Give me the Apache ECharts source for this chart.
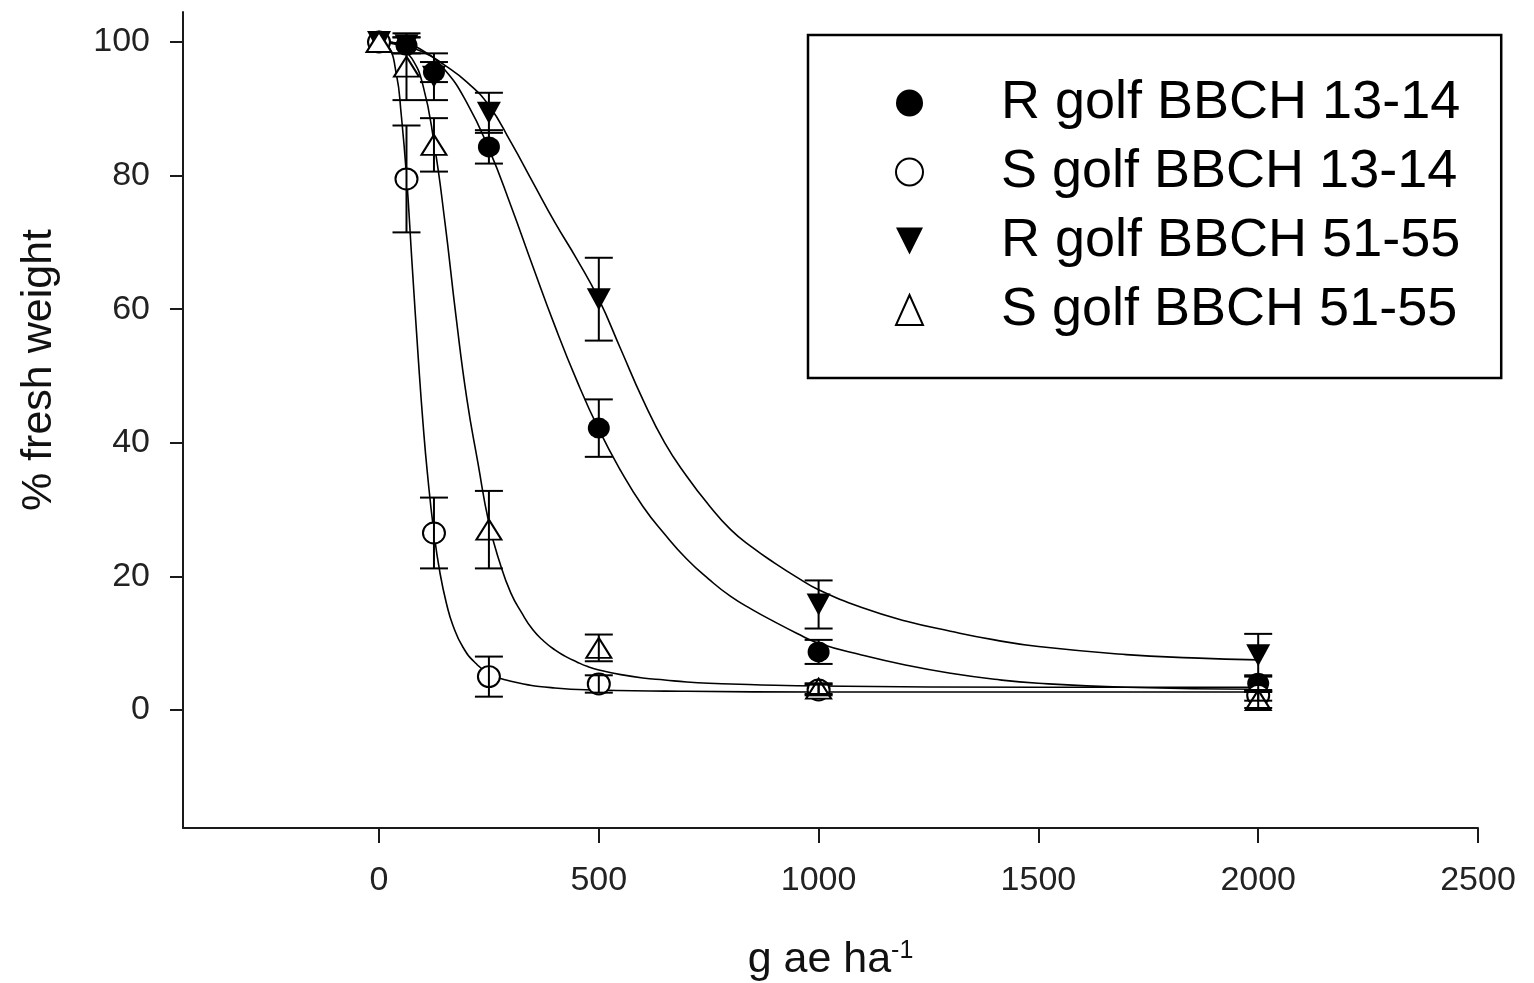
<!DOCTYPE html>
<html><head><meta charset="utf-8">
<script src="https://cdn.jsdelivr.net/npm/echarts@6/dist/echarts.min.js"></script>
<style>html,body{margin:0;padding:0;background:#fff}#c{width:1534px;height:983px}</style>
</head><body><div id="c"></div>
<script>
// ---- data ----
const doses = [0, 62.5, 125, 250, 500, 1000, 2000];
const seriesNames = ['R golf BBCH 13-14', 'S golf BBCH 13-14', 'R golf BBCH 51-55', 'S golf BBCH 51-55'];

const rGolf1314 = [100, 99.5, 95.5, 84.3, 42.2, 8.7, 4.0];
const rGolf1314Err = [0, 1.2, 1.5, 2.5, 4.3, 1.8, 1.2];
const sGolf1314 = [100, 79.5, 26.5, 5.0, 3.9, 3.0, 2.2];
const sGolf1314Err = [0, 8, 5.3, 3.0, 1.3, 0.8, 0.8];
const rGolf5155 = [100, 99.5, 94.8, 89.4, 61.5, 15.8, 8.2];
const rGolf5155Err = [0, 1.2, 3.5, 3.0, 6.2, 3.6, 3.2];
const sGolf5155 = [100, 96.3, 84.6, 27.0, 9.3, 3.2, 1.5];
const sGolf5155Err = [0, 5, 4, 5.8, 2.0, 0.8, 1.2];

// fitted curves, points
const fitR1314X = [0, 50, 100, 150, 200, 250, 300, 350, 400, 450, 500, 550, 600, 650, 700, 750, 800, 850, 900, 950, 1000, 1100, 1200, 1300, 1400, 1500, 1700, 2000];
const fitR1314Y = [100, 99.8, 98.7, 95.8, 90.9, 84, 75.5, 66.4, 57.5, 49.3, 42, 35.8, 30.5, 26.3, 22.6, 19.6, 17, 15, 13.2, 11.5, 10, 8.2, 6.7, 5.5, 4.6, 4.0, 3.4, 3.1];
const fitS1314X = [0, 20, 40, 50, 62.5, 75, 90, 100, 110, 125, 139, 154, 168, 191, 220, 250, 300, 400, 500, 700, 1000, 1500, 2000];
const fitS1314Y = [100, 99.5, 95, 89.5, 80, 67, 52, 43, 35.5, 26.5, 20.4, 15.8, 12.7, 9.4, 7, 5.5, 4.3, 3.3, 3.0, 2.8, 2.7, 2.7, 2.7];
const fitR5155X = [0, 50, 100, 150, 200, 250, 300, 350, 400, 450, 500, 550, 600, 650, 700, 750, 800, 850, 900, 950, 1000, 1100, 1200, 1300, 1400, 1500, 1700, 1850, 2000];
const fitR5155Y = [100, 99.5, 98.5, 96.5, 94, 90.5, 85, 79, 73, 67.5, 61.5, 54, 46.5, 40, 35, 30.7, 27, 24.3, 22, 19.9, 18, 15.3, 13.3, 11.8, 10.5, 9.5, 8.3, 7.8, 7.5];
const fitS5155X = [0, 25, 50, 75, 100, 125, 150, 175, 200, 225, 250, 275, 300, 325, 350, 375, 400, 425, 450, 475, 500, 550, 600, 650, 700, 750, 800, 900, 1000, 1500, 2000];
const fitS5155Y = [100, 100, 99, 97.5, 93.5, 85, 73, 59, 46.5, 37, 28, 22, 17.5, 14.5, 12, 10.3, 9, 8, 7.2, 6.5, 6, 5.3, 4.8, 4.5, 4.2, 4.0, 3.9, 3.7, 3.6, 3.4, 3.4];

const xTickValues = [0, 500, 1000, 1500, 2000, 2500];
const yTickValues = [0, 20, 40, 60, 80, 100];

// ---- chart ----
const FONT = 'Liberation Sans, Arial, sans-serif';
const zip = (xs, ys) => xs.map((x, i) => [x, ys[i]]);
const zip3 = (xs, ys, es) => xs.map((x, i) => [x, ys[i], es[i]]);

function renderErr(params, api) {
  const x = api.value(0), y = api.value(1), e = api.value(2);
  if (!e) return null;
  const top = api.coord([x, y + e]), bot = api.coord([x, y - e]);
  const hw = 14;
  const st = { stroke: '#000', lineWidth: 2 };
  return {
    type: 'group', children: [
      { type: 'line', shape: { x1: top[0], y1: top[1], x2: bot[0], y2: bot[1] }, style: st },
      { type: 'line', shape: { x1: top[0] - hw, y1: top[1], x2: top[0] + hw, y2: top[1] }, style: st },
      { type: 'line', shape: { x1: bot[0] - hw, y1: bot[1], x2: bot[0] + hw, y2: bot[1] }, style: st }
    ]
  };
}

const downTri = 'path://M0,0L2,0L1,2Z';
const markers = [
  { symbol: 'circle', size: [22, 21], style: { color: '#000', opacity: 1 } },
  { symbol: 'circle', size: [22, 21], style: { color: '#fff', borderColor: '#000', borderWidth: 2, opacity: 1 } },
  { symbol: downTri, size: [24, 22], style: { color: '#000', opacity: 1 } },
  { symbol: 'triangle', size: [25, 20], style: { color: '#fff', borderColor: '#000', borderWidth: 2, opacity: 1 } }
];
const pointsY = [rGolf1314, sGolf1314, rGolf5155, sGolf5155];
const errs = [rGolf1314Err, sGolf1314Err, rGolf5155Err, sGolf5155Err];
const fits = [[fitR1314X, fitR1314Y], [fitS1314X, fitS1314Y], [fitR5155X, fitR5155Y], [fitS5155X, fitS5155Y]];

const series = [];
fits.forEach((f, i) => {
  series.push({
    name: 'fit' + i, type: 'line', data: zip(f[0], f[1]), showSymbol: false,
    smooth: 0.5, silent: true, z: 2,
    lineStyle: { color: '#000', width: 1.6 }
  });
});
pointsY.forEach((ys, i) => {
  series.push({
    name: seriesNames[i], type: 'scatter', data: zip(doses, ys), z: 3,
    symbol: markers[i].symbol, symbolSize: markers[i].size, itemStyle: markers[i].style
  });
});
errs.forEach((es, i) => {
  series.push({
    name: 'err' + i, type: 'custom', renderItem: renderErr, z: 4, silent: true,
    encode: { x: 0, y: 1 }, data: zip3(doses, pointsY[i], es)
  });
});

const axisColor = '#1a1a1a';
const option = {
  animation: false,
  backgroundColor: '#fff',
  grid: { left: 183, right: 56, top: 12, bottom: 155, containLabel: false, outerBoundsMode: 'none' },
  xAxis: {
    type: 'value', min: -445.9, max: 2500,
    axisLine: { show: true, onZero: false, lineStyle: { color: axisColor, width: 2 } },
    axisTick: { show: true, customValues: xTickValues, length: 15, lineStyle: { color: axisColor, width: 2 } },
    axisLabel: { customValues: xTickValues, formatter: v => String(v), fontSize: 34, fontFamily: FONT, color: '#222', margin: 36 },
    splitLine: { show: false },
    name: '{a|g ae ha}{b|-1}', nameLocation: 'middle', nameGap: 111,
    nameTextStyle: {
      fontFamily: FONT, color: '#111',
      rich: {
        a: { fontSize: 43, fontFamily: FONT, color: '#111' },
        b: { fontSize: 25, fontFamily: FONT, color: '#111', verticalAlign: 'top' }
      }
    }
  },
  yAxis: {
    type: 'value', min: -17.66, max: 104.49,
    axisLine: { show: true, onZero: false, lineStyle: { color: axisColor, width: 2 } },
    axisTick: { show: true, customValues: yTickValues, length: 13, lineStyle: { color: axisColor, width: 2 } },
    axisLabel: { customValues: yTickValues, formatter: v => String(v), fontSize: 34, fontFamily: FONT, color: '#222', margin: 33 },
    splitLine: { show: false },
    name: '% fresh weight', nameLocation: 'middle', nameGap: 122,
    nameTextStyle: { fontSize: 43, fontFamily: FONT, color: '#111', padding: [0, 0, 0, 100] }
  },
  legend: {
    data: seriesNames, orient: 'vertical', left: 808, top: 35,
    padding: [41, 41, 41, 87], itemGap: 15, itemWidth: 27, itemHeight: 30,
    borderColor: '#000', borderWidth: 2.5, backgroundColor: '#fff',
    textStyle: { fontSize: 54, lineHeight: 54, fontFamily: FONT, color: '#000', padding: [0, 0, 0, 73] },
    selectedMode: false
  },
  series
};
const chart = echarts.init(document.getElementById('c'));
chart.setOption(option);
</script>
</body></html>
